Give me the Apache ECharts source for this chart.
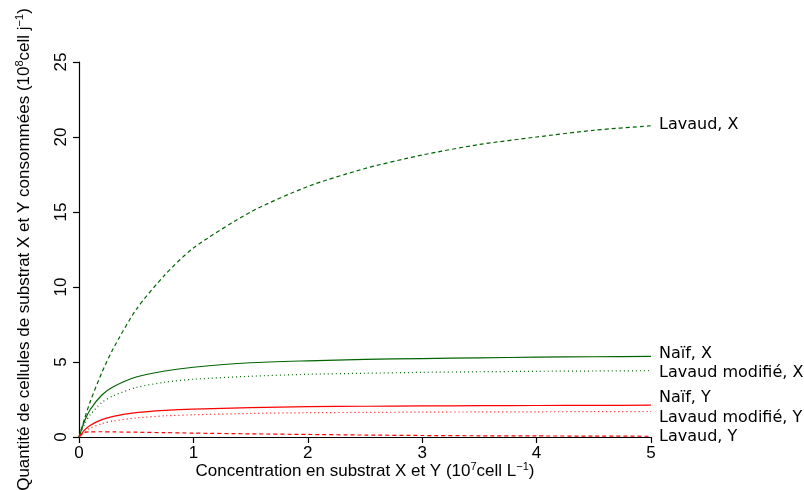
<!DOCTYPE html>
<html>
<head>
<meta charset="utf-8">
<script src="https://cdn.jsdelivr.net/npm/echarts@6/dist/echarts.min.js"></script>
<style>html,body{margin:0;padding:0;background:#fff}#c{width:804px;height:490px}</style>
</head>
<body>
<div id="c"></div>
<script>
var xs = [0, 0.05, 0.1, 0.2, 0.3, 0.5, 0.75, 1, 1.5, 2, 2.5, 3, 3.5, 4, 4.5, 5];
var lavaudX = [0, 1.25, 2.4, 4.3, 5.9, 8.5, 10.8, 12.6, 15.0, 16.7, 17.9, 18.8, 19.5, 20.0, 20.45, 20.75];
var naifX = [0, 1.1, 1.85, 2.8, 3.35, 4.0, 4.4, 4.65, 4.95, 5.08, 5.17, 5.23, 5.28, 5.32, 5.35, 5.38];
var lavModX = [0, 0.9, 1.5, 2.3, 2.75, 3.3, 3.65, 3.85, 4.05, 4.18, 4.25, 4.31, 4.35, 4.38, 4.4, 4.42];
var naifY = [0, 0.48, 0.79, 1.16, 1.38, 1.62, 1.77, 1.86, 1.96, 2.02, 2.05, 2.07, 2.09, 2.1, 2.11, 2.12];
var lavModY = [0, 0.36, 0.59, 0.89, 1.07, 1.27, 1.41, 1.48, 1.57, 1.62, 1.64, 1.66, 1.67, 1.68, 1.69, 1.7];
var lavaudY = [0, 0.3, 0.34, 0.35, 0.34, 0.32, 0.29, 0.26, 0.21, 0.17, 0.13, 0.1, 0.08, 0.07, 0.06, 0.05];
var seriesNames = ['Lavaud, X', 'Naïf, X', 'Lavaud modifié, X', 'Naïf, Y', 'Lavaud modifié, Y', 'Lavaud, Y'];

function pairs(ys) { return xs.map(function (x, i) { return [x, ys[i]]; }); }
var GREEN = '#006400', RED = '#ff0000';
var DASH = [4, 3], DOT = [1, 3];
function mk(name, ys, color, type, off) {
  return {
    name: name, type: 'line', data: pairs(ys), smooth: 0.25, showSymbol: false, silent: true,
    lineStyle: { color: color, width: 1.2, type: type },
    endLabel: { show: true, formatter: name, offset: off, color: '#000',
      fontFamily: 'DejaVu Sans', fontSize: 16, distance: 8 }
  };
}
var chart = echarts.init(document.getElementById('c'), null, { renderer: 'canvas' });
var axisFont = { color: '#000', fontFamily: 'Liberation Sans', fontSize: 17 };
var supRich = { s: { fontSize: 11, fontFamily: 'Liberation Sans', color: '#000', padding: [0, 0, 9, 0] } };
chart.setOption({
  animation: false,
  backgroundColor: '#fff',
  grid: { left: 79, right: 153, top: 62, bottom: 53, containLabel: false, outerBoundsMode: 'none' },
  xAxis: {
    type: 'value', min: 0, max: 5, interval: 1,
    axisLine: { show: true, lineStyle: { color: '#000', width: 1.2 } },
    axisTick: { show: true, length: 6, lineStyle: { color: '#000', width: 1.2 } },
    axisLabel: Object.assign({ margin: 8 }, axisFont),
    splitLine: { show: false },
    name: 'Concentration en substrat X et Y (10{s|7}cell L{s|−1})',
    nameLocation: 'middle', nameGap: 24, nameMoveOverlap: false,
    nameTextStyle: Object.assign({ rich: supRich }, axisFont)
  },
  yAxis: {
    type: 'value', min: 0, max: 25, interval: 5,
    axisLine: { show: true, lineStyle: { color: '#000', width: 1.2 } },
    axisTick: { show: true, length: 6, lineStyle: { color: '#000', width: 1.2 } },
    axisLabel: Object.assign({ margin: 9, rotate: 90 }, axisFont),
    splitLine: { show: false },
    name: 'Quantité de cellules de substrat X et Y consommées (10{s|8}cell j{s|−1})',
    nameLocation: 'middle', nameGap: 45,
    nameTextStyle: Object.assign({ rich: supRich }, axisFont)
  },
  series: [
    mk(seriesNames[0], lavaudX, GREEN, DASH, [0, -1]),
    mk(seriesNames[1], naifX, GREEN, 'solid', [0, -2]),
    mk(seriesNames[2], lavModX, GREEN, DOT, [0, 2]),
    mk(seriesNames[3], naifY, RED, 'solid', [0, -7]),
    mk(seriesNames[4], lavModY, RED, DOT, [0, 6]),
    mk(seriesNames[5], lavaudY, RED, DASH, [0, 1])
  ]
});
</script>
</body>
</html>
